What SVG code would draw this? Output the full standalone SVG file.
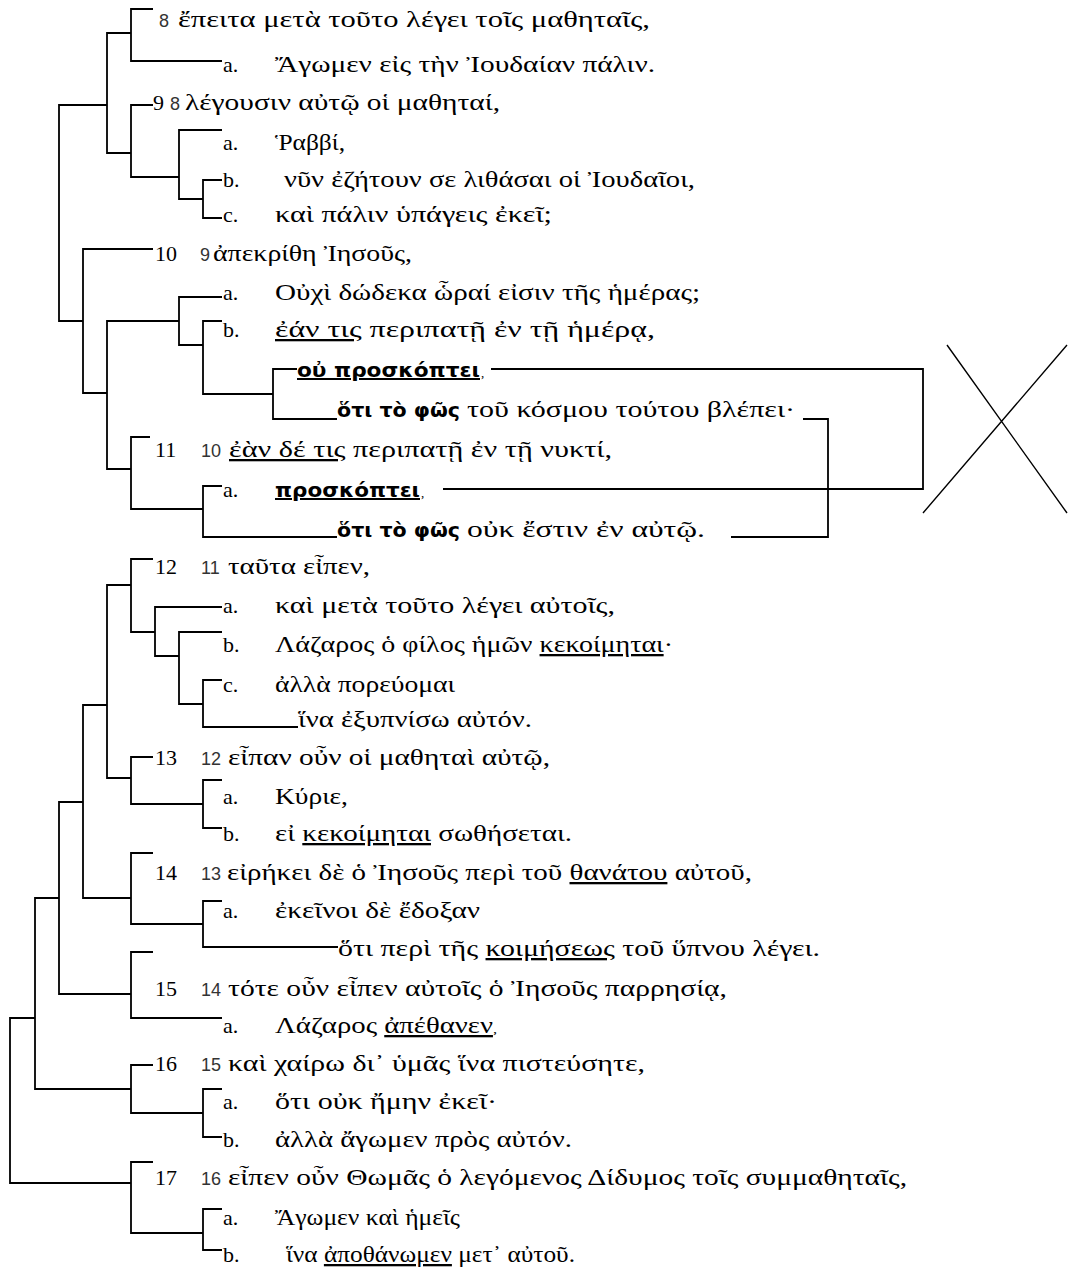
<svg xmlns="http://www.w3.org/2000/svg" width="1070" height="1268" viewBox="0 0 1070 1268">
<style>
.l{stroke:#000;stroke-width:1.8;fill:none;stroke-linecap:butt;stroke-linejoin:miter}
.x{stroke:#000;stroke-width:1.4;fill:none}
text{font-family:"Liberation Serif","DejaVu Serif",serif;font-size:22px;fill:#000}
.g{font-size:23px}
.n{font-family:"Liberation Sans","DejaVu Sans",sans-serif;font-size:18px;fill:#333}
.b{font-family:"DejaVu Sans","Liberation Sans",sans-serif;font-weight:bold;font-size:20px}
.u{text-decoration:underline}
.s{font-size:13px}
</style>
<rect width="1070" height="1268" fill="#fff"/>
<g id="connectors">
<path class="l" d="M153,9 H131 V61 H222"/>
<path class="l" d="M131,33 H107 V153 H131"/>
<path class="l" d="M153,105 H131 V177 H179"/>
<path class="l" d="M222,130 H179 V199 H203"/>
<path class="l" d="M222,180 H203 V218 H222"/>
<path class="l" d="M107,105 H59 V321 H83"/>
<path class="l" d="M153,249 H83 V393 H107"/>
<path class="l" d="M179,321 H107 V469 H131"/>
<path class="l" d="M222,297 H179 V345 H203"/>
<path class="l" d="M222,321 H203 V394 H273"/>
<path class="l" d="M297,369 H273 V419 H337"/>
<path class="l" d="M150,437 H131 V509 H203"/>
<path class="l" d="M222,486 H203 V537 H337"/>
<path class="l" d="M491,369 H923 V489 H443"/>
<path class="l" d="M803,419 H828 V537 H731"/>
<path class="x" d="M947,345 L1067,513 M1067,345 L923,513"/>
<path class="l" d="M153,559 H131 V632 H155"/>
<path class="l" d="M222,607 H155 V656 H179"/>
<path class="l" d="M222,632 H179 V704 H203"/>
<path class="l" d="M222,680 H203 V727 H298"/>
<path class="l" d="M131,585 H107 V778 H131"/>
<path class="l" d="M153,757 H131 V804 H203"/>
<path class="l" d="M222,780 H203 V828 H222"/>
<path class="l" d="M107,705 H83 V898 H131"/>
<path class="l" d="M153,853 H131 V924 H203"/>
<path class="l" d="M222,901 H203 V947 H338"/>
<path class="l" d="M83,802 H59 V994 H131"/>
<path class="l" d="M153,952 H131 V1018 H222"/>
<path class="l" d="M59,898 H35 V1089 H131"/>
<path class="l" d="M153,1065 H131 V1113 H203"/>
<path class="l" d="M222,1089 H203 V1137 H222"/>
<path class="l" d="M35,1018 H10 V1183 H131"/>
<path class="l" d="M153,1162 H131 V1233 H203"/>
<path class="l" d="M222,1209 H203 V1250 H222"/>
</g>
<g id="r1"><text class="n" x="159" y="27">8</text><text class="g" x="178" y="27" textLength="472" lengthAdjust="spacingAndGlyphs">ἔπειτα μετὰ τοῦτο λέγει τοῖς μαθηταῖς,</text></g>
<g id="r2"><text x="223" y="72">a.</text><text class="g" x="275" y="72" textLength="380" lengthAdjust="spacingAndGlyphs">Ἄγωμεν εἰς τὴν Ἰουδαίαν πάλιν.</text></g>
<g id="r3"><text x="153" y="110">9</text><text class="n" x="170" y="110">8</text><text class="g" x="185" y="110" textLength="315" lengthAdjust="spacingAndGlyphs">λέγουσιν αὐτῷ οἱ μαθηταί,</text></g>
<g id="r4"><text x="223" y="150">a.</text><text class="g" x="275" y="150" textLength="70" lengthAdjust="spacingAndGlyphs">Ῥαββί,</text></g>
<g id="r5"><text x="223" y="187">b.</text><text class="g" x="284" y="187" textLength="411" lengthAdjust="spacingAndGlyphs">νῦν ἐζήτουν σε λιθάσαι οἱ Ἰουδαῖοι,</text></g>
<g id="r6"><text x="223" y="222">c.</text><text class="g" x="275" y="222" textLength="277" lengthAdjust="spacingAndGlyphs">καὶ πάλιν ὑπάγεις ἐκεῖ;</text></g>
<g id="r7"><text x="155" y="261">10</text><text class="n" x="200" y="261">9</text><text class="g" x="213" y="261" textLength="199" lengthAdjust="spacingAndGlyphs">ἀπεκρίθη Ἰησοῦς,</text></g>
<g id="r8"><text x="223" y="300">a.</text><text class="g" x="275" y="300" textLength="425" lengthAdjust="spacingAndGlyphs">Οὐχὶ δώδεκα ὧραί εἰσιν τῆς ἡμέρας;</text></g>
<g id="r9"><text x="223" y="337">b.</text><text class="g" x="275" y="337" textLength="380" lengthAdjust="spacingAndGlyphs"><tspan class="u">ἐάν τις</tspan> περιπατῇ ἐν τῇ ἡμέρᾳ,</text></g>
<g id="r10"><text class="b u" x="297" y="377" textLength="183" lengthAdjust="spacingAndGlyphs">οὐ προσκόπτει</text><text class="s" x="481" y="377">,</text></g>
<g id="r11"><text class="b" x="337" y="417" textLength="123" lengthAdjust="spacingAndGlyphs">ὅτι τὸ φῶς</text><text class="g" x="467" y="417" textLength="328" lengthAdjust="spacingAndGlyphs">τοῦ κόσμου τούτου βλέπει·</text></g>
<g id="r12"><text x="155" y="457">11</text><text class="n" x="201" y="457">10</text><text class="g" x="229" y="457" textLength="383" lengthAdjust="spacingAndGlyphs"><tspan class="u">ἐὰν δέ τις</tspan> περιπατῇ ἐν τῇ νυκτί,</text></g>
<g id="r13"><text x="223" y="497">a.</text><text class="b u" x="275" y="497" textLength="145" lengthAdjust="spacingAndGlyphs">προσκόπτει</text><text class="s" x="421" y="497">,</text></g>
<g id="r14"><text class="b" x="337" y="537" textLength="123" lengthAdjust="spacingAndGlyphs">ὅτι τὸ φῶς</text><text class="g" x="467" y="537" textLength="238" lengthAdjust="spacingAndGlyphs">οὐκ ἔστιν ἐν αὐτῷ.</text></g>
<g id="r15"><text x="155" y="574">12</text><text class="n" x="201" y="574">11</text><text class="g" x="228" y="574" textLength="142" lengthAdjust="spacingAndGlyphs">ταῦτα εἶπεν,</text></g>
<g id="r16"><text x="223" y="613">a.</text><text class="g" x="275" y="613" textLength="340" lengthAdjust="spacingAndGlyphs">καὶ μετὰ τοῦτο λέγει αὐτοῖς,</text></g>
<g id="r17"><text x="223" y="652">b.</text><text class="g" x="275" y="652" textLength="398" lengthAdjust="spacingAndGlyphs">Λάζαρος ὁ φίλος ἡμῶν <tspan class="u">κεκοίμηται</tspan>·</text></g>
<g id="r18"><text x="223" y="692">c.</text><text class="g" x="275" y="692" textLength="180" lengthAdjust="spacingAndGlyphs">ἀλλὰ πορεύομαι</text></g>
<g id="r19"><text class="g" x="298" y="727" textLength="234" lengthAdjust="spacingAndGlyphs">ἵνα ἐξυπνίσω αὐτόν.</text></g>
<g id="r20"><text x="155" y="765">13</text><text class="n" x="201" y="765">12</text><text class="g" x="228" y="765" textLength="322" lengthAdjust="spacingAndGlyphs">εἶπαν οὖν οἱ μαθηταὶ αὐτῷ,</text></g>
<g id="r21"><text x="223" y="804">a.</text><text class="g" x="275" y="804" textLength="73" lengthAdjust="spacingAndGlyphs">Κύριε,</text></g>
<g id="r22"><text x="223" y="841">b.</text><text class="g" x="275" y="841" textLength="297" lengthAdjust="spacingAndGlyphs">εἰ <tspan class="u">κεκοίμηται</tspan> σωθήσεται.</text></g>
<g id="r23"><text x="155" y="880">14</text><text class="n" x="201" y="880">13</text><text class="g" x="227" y="880" textLength="525" lengthAdjust="spacingAndGlyphs">εἰρήκει δὲ ὁ Ἰησοῦς περὶ τοῦ <tspan class="u">θανάτου</tspan> αὐτοῦ,</text></g>
<g id="r24"><text x="223" y="918">a.</text><text class="g" x="275" y="918" textLength="205" lengthAdjust="spacingAndGlyphs">ἐκεῖνοι δὲ ἔδοξαν</text></g>
<g id="r25"><text class="g" x="338" y="956" textLength="482" lengthAdjust="spacingAndGlyphs">ὅτι περὶ τῆς <tspan class="u">κοιμήσεως</tspan> τοῦ ὕπνου λέγει.</text></g>
<g id="r26"><text x="155" y="996">15</text><text class="n" x="201" y="996">14</text><text class="g" x="228" y="996" textLength="499" lengthAdjust="spacingAndGlyphs">τότε οὖν εἶπεν αὐτοῖς ὁ Ἰησοῦς παρρησίᾳ,</text></g>
<g id="r27"><text x="223" y="1033">a.</text><text class="g" x="275" y="1033" textLength="222" lengthAdjust="spacingAndGlyphs">Λάζαρος <tspan class="u">ἀπέθανεν</tspan><tspan class="s">,</tspan></text></g>
<g id="r28"><text x="155" y="1071">16</text><text class="n" x="201" y="1071">15</text><text class="g" x="228" y="1071" textLength="417" lengthAdjust="spacingAndGlyphs">καὶ χαίρω δι᾽ ὑμᾶς ἵνα πιστεύσητε,</text></g>
<g id="r29"><text x="223" y="1109">a.</text><text class="g" x="275" y="1109" textLength="222" lengthAdjust="spacingAndGlyphs">ὅτι οὐκ ἤμην ἐκεῖ·</text></g>
<g id="r30"><text x="223" y="1147">b.</text><text class="g" x="275" y="1147" textLength="297" lengthAdjust="spacingAndGlyphs">ἀλλὰ ἄγωμεν πρὸς αὐτόν.</text></g>
<g id="r31"><text x="155" y="1185">17</text><text class="n" x="201" y="1185">16</text><text class="g" x="228" y="1185" textLength="679" lengthAdjust="spacingAndGlyphs">εἶπεν οὖν Θωμᾶς ὁ λεγόμενος Δίδυμος τοῖς συμμαθηταῖς,</text></g>
<g id="r32"><text x="223" y="1225">a.</text><text class="g" x="275" y="1225" textLength="185" lengthAdjust="spacingAndGlyphs">Ἄγωμεν καὶ ἡμεῖς</text></g>
<g id="r33"><text x="223" y="1262">b.</text><text class="g" x="286" y="1262" textLength="289" lengthAdjust="spacingAndGlyphs">ἵνα <tspan class="u">ἀποθάνωμεν</tspan> μετ᾽ αὐτοῦ.</text></g>
</svg>
